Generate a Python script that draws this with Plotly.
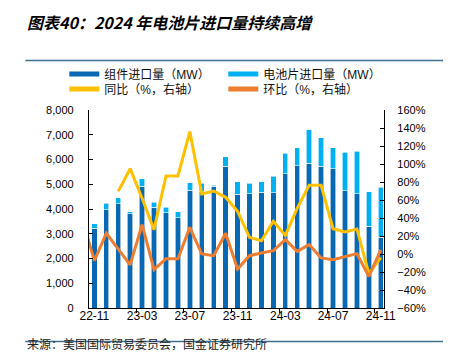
import plotly.graph_objects as go

months = ["22-11","22-12","23-01","23-02","23-03","23-04","23-05","23-06","23-07","23-08","23-09","23-10",
          "23-11","23-12","24-01","24-02","24-03","24-04","24-05","24-06","24-07","24-08","24-09","24-10","24-11"]
module_mw = [3230,3970,4210,3800,4920,4070,3840,3640,4750,4690,4920,5720,
             4590,4620,4670,4650,5430,5750,5850,5720,5620,4740,4620,3310,2860]
cell_mw = [175,270,240,80,300,200,240,240,320,360,30,385,
           510,430,430,670,830,730,1360,1160,860,1550,1720,1380,2020]
yoy_pct = [None,None,69.6,94.8,62,27,86.7,86.7,136,66.7,70,63,
           47.4,18.5,14.8,36.3,20.7,51,76.3,76.3,28.1,24.4,27.8,-21.9,-4]
# month-on-month, the first value is 22-10 (only its segment into 22-11 is visible)
mom_months = ["22-10"] + months
mom_pct = [38,-7.4,23,5,-12,32.6,-17.4,-5.2,-5.2,29.6,0,-1.9,23,
           -16.7,-1.9,1.1,3.7,15.9,3.0,10.4,-4.4,-6.3,-3.3,0.4,-25,4.5]
tick_labels = ["22-11","23-03","23-07","23-11","24-03","24-07","24-11"]

W, H = 451, 361
L, R, T, B = 80.7, 376, 102, 300
def px(x): return (x - L) / (R - L)
def py(y): return (B - y) / (B - T)

idx = list(range(len(months)))
mom_idx = list(range(-1, len(months)))
tickvals = [months.index(m) for m in tick_labels]

DARK = "#0868B4"
LIGHT = "#00B0F0"
YEL = "#FFC000"
ORA = "#ED7D31"
FONT = "Liberation Sans, Noto Sans CJK SC"

fig = go.Figure()
fig.add_trace(go.Bar(x=idx, y=module_mw, marker=dict(color=DARK, line=dict(color="white", width=0.6)),
                     showlegend=False, yaxis="y"))
fig.add_trace(go.Bar(x=idx, y=cell_mw, marker=dict(color=LIGHT, line=dict(color="white", width=0.6)),
                     showlegend=False, yaxis="y"))
fig.add_trace(go.Scatter(x=idx, y=yoy_pct, mode="lines", line=dict(color=YEL, width=3),
                         yaxis="y2", showlegend=False))
fig.add_trace(go.Scatter(x=mom_idx, y=mom_pct, mode="lines", line=dict(color=ORA, width=3),
                         yaxis="y2", showlegend=False))
# legend entries (two rows = two legends)
for name, col, lg in [("组件进口量（MW）", DARK, "legend"), ("电池片进口量（MW）", LIGHT, "legend"),
                      ("同比（%，右轴）", YEL, "legend2"), ("环比（%，右轴）", ORA, "legend2")]:
    fig.add_trace(go.Scatter(x=[None], y=[None], mode="lines", name=name, legend=lg,
                             line=dict(color=col, width=5), yaxis="y2"))

leg_common = dict(orientation="h", xanchor="left", yanchor="middle",
                  entrywidth=114, entrywidthmode="pixels", font=dict(size=12, color="#111"),
                  bgcolor="rgba(0,0,0,0)", tracegroupgap=0, itemwidth=30, traceorder="normal")

fig.update_layout(
    width=W, height=H,
    margin=dict(l=L, r=W - R, t=T, b=H - B),
    paper_bgcolor="white", plot_bgcolor="white",
    barmode="stack", bargap=0.55,
    font=dict(family=FONT, size=11, color="#000"),
    title=dict(text="<b><i>图表40：2024 年电池片进口量持续高增</i></b>", xref="container", yref="container",
               x=19 / W, y=1 - 15 / H, xanchor="left", yanchor="middle",
               font=dict(size=16, color="#000", family="Noto Sans CJK SC")),
    legend=dict(x=px(56), y=py(66), **leg_common),
    legend2=dict(x=px(56), y=py(81), **leg_common),
    xaxis=dict(range=[-0.45, 24.27], tickvals=tickvals, ticktext=tick_labels, ticks="",
               showline=True, linecolor="#000", linewidth=1.3, showgrid=False, zeroline=False,
               tickfont=dict(size=12), ticklabelstandoff=-4,
               minor=dict(tick0=3.5, dtick=4, ticks="outside", ticklen=4, tickcolor="#000", showgrid=False)),
    yaxis=dict(range=[0, 8000], dtick=1000, tickformat=",", ticks="inside", ticklen=4, tickcolor="#000",
               showline=True, linecolor="#000", linewidth=1.3, showgrid=False, zeroline=False,
               ticklabelstandoff=12, tickfont=dict(size=11)),
    yaxis2=dict(range=[-60, 160], dtick=20, ticksuffix="%", overlaying="y", side="right",
                ticks="inside", ticklen=4, tickcolor="#000",
                showline=True, linecolor="#000", linewidth=1.3, showgrid=False, zeroline=False,
                ticklabelstandoff=10, tickfont=dict(size=11)),
    shapes=[
        dict(type="line", xref="paper", yref="paper", x0=px(17), x1=px(451), y0=py(52.5), y1=py(52.5),
             line=dict(color="#3F6F8F", width=1.5)),
        dict(type="line", xref="paper", yref="paper", x0=px(17), x1=px(451), y0=py(333.5), y1=py(333.5),
             line=dict(color="#3F6F8F", width=1.5)),
    ],
    annotations=[
        dict(text="来源：美国国际贸易委员会，国金证券研究所", xref="paper", yref="paper",
             x=px(17), y=py(335), xanchor="left", yanchor="middle", showarrow=False,
             font=dict(size=12, color="#222", family="Noto Sans CJK SC")),
    ],
)
fig.write_html("out.html")
